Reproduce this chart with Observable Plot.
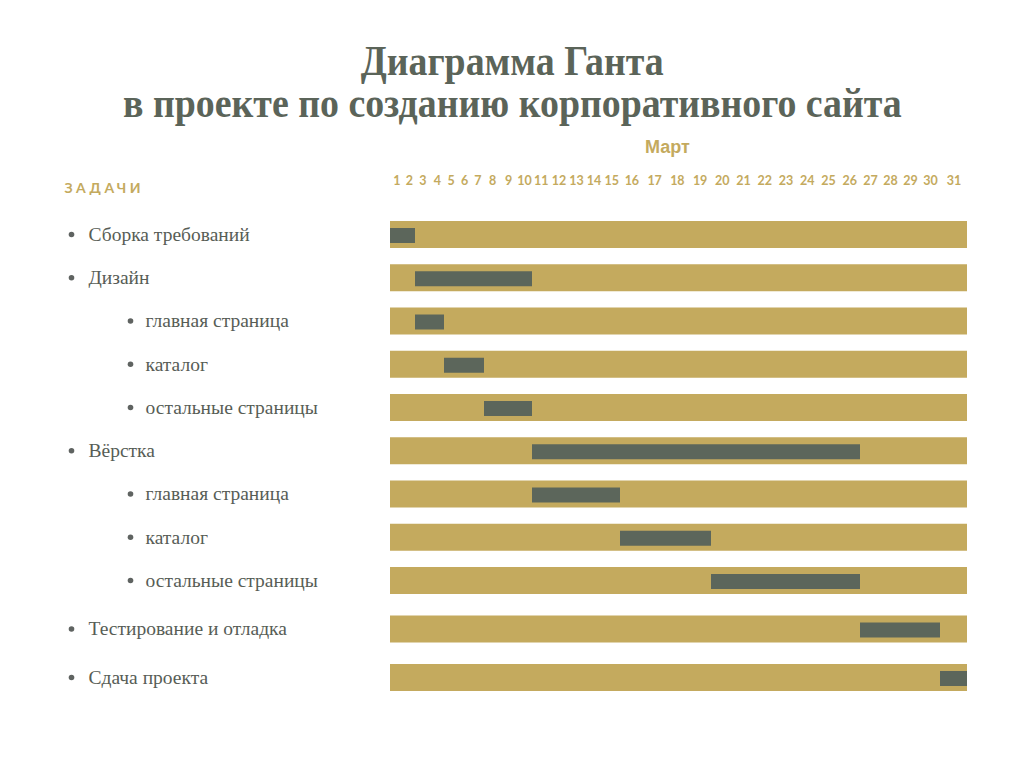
<!DOCTYPE html>
<html>
<head>
<meta charset="utf-8">
<script src="https://cdn.jsdelivr.net/npm/d3@7"></script>
<script src="https://cdn.jsdelivr.net/npm/@observablehq/plot@0.6"></script>
<style>
  html, body { margin: 0; padding: 0; background: #ffffff; }
  #page { width: 1024px; height: 768px; position: relative; overflow: hidden; }
  #title {
    box-sizing: border-box; height: 130px; padding-top: 40px;
    text-align: center; font-family: "Liberation Serif", serif; font-weight: bold;
    font-size: 43px; line-height: 42px; color: #5b6459;
  }
  #title span { display: inline-block; transform: scaleX(0.88); transform-origin: center; white-space: nowrap; }
  #chart svg { display: block; }
</style>
</head>
<body>
<div id="page">
  <div id="title"><span>Диаграмма Ганта</span><br><span>в проекте по созданию корпоративного сайта</span></div>
  <div id="chart"></div>
</div>
<script>
const month = "Март";
const header = "ЗАДАЧИ";
const days = d3.range(1, 32);
const tasks = ["Сборка требований", "Дизайн", "главная страница", "каталог", "остальные страницы",
  "Вёрстка", "главная страница", "каталог", "остальные страницы", "Тестирование и отладка", "Сдача проекта"];
const levels = [1, 1, 2, 2, 2, 1, 2, 2, 2, 1, 1];
const startDays = [1, 3, 3, 5, 8, 11, 11, 16, 20, 27, 31];
const endDays = [2, 10, 4, 7, 10, 26, 15, 19, 26, 30, 31];

const rows = tasks.map((t, i) => ({i, task: t, level: levels[i], start: startDays[i], end: endDays[i] + 1}));

const gold = "#c4aa5e";
const dark = "#5c665b";
const textColor = "#575d56";

// The day axis of the design is not uniform (narrow single-digit days, wider later days):
// a piecewise warp used as the x scale's transform.
const dayWarp = d3.scaleLinear()
  .domain([1, 3, 5, 8, 11, 16, 20, 27, 31, 32])
  .range([390, 415, 444, 484, 532, 620, 711, 860, 940, 967]);
// Row spacing widens slightly for the last rows.
const rowWarp = d3.scaleLinear().domain([0, 8, 10]).range([104, 450, 547]);

const chart = Plot.plot({
  width: 1024,
  height: 638,
  marginLeft: 0, marginRight: 0, marginTop: 0, marginBottom: 0,
  style: {background: "transparent", fontFamily: "Liberation Serif"},
  x: {type: "linear", transform: d => dayWarp(d), domain: [0, 1024], range: [0, 1024], axis: null},
  y: {type: "linear", transform: d => rowWarp(d), domain: [0, 638], range: [0, 638], axis: null},
  marks: [
    // month label
    Plot.text([month], {frameAnchor: "top-left", dx: 667, dy: 17, text: d => d, textAnchor: "middle", lineAnchor: "middle",
      fill: gold, fontSize: 18, fontWeight: "bold", fontFamily: "Liberation Sans"}),
    // day labels
    Plot.text(days, {x: d => d + 0.5, frameAnchor: "top", dy: 50, text: d => String(d), lineAnchor: "middle",
      fill: gold, fontSize: 12.5, fontWeight: "bold", fontFamily: "Lato"}),
    // header
    Plot.text([header], {frameAnchor: "top-left", dx: 64, dy: 58, text: d => d, textAnchor: "start", lineAnchor: "middle",
      fill: gold, fontSize: 14, fontWeight: "bold", fontFamily: "Lato"}),
    // background bars
    Plot.ruleY(rows, {y: "i", x1: () => 1, x2: () => 32, stroke: gold, strokeWidth: 27}),
    // task bars
    Plot.ruleY(rows, {y: "i", x1: "start", x2: "end", stroke: dark, strokeWidth: 15, dy: 1}),
    // bullets
    Plot.dot(rows, {filter: d => d.level === 1, y: "i", frameAnchor: "left", dx: 71, r: 2.8, fill: "#5f6361", stroke: null}),
    Plot.dot(rows, {filter: d => d.level === 2, y: "i", frameAnchor: "left", dx: 130, r: 2.8, fill: "#5f6361", stroke: null}),
    // labels
    Plot.text(rows, {filter: d => d.level === 1, y: "i", frameAnchor: "left", dx: 88, text: "task", textAnchor: "start", lineAnchor: "middle",
      fill: textColor, fontSize: 19.5, fontFamily: "Liberation Serif"}),
    Plot.text(rows, {filter: d => d.level === 2, y: "i", frameAnchor: "left", dx: 145, text: "task", textAnchor: "start", lineAnchor: "middle",
      fill: textColor, fontSize: 19.5, fontFamily: "Liberation Serif"})
  ]
});

d3.select(chart).selectAll("text").filter(function() { return this.textContent === header; })
  .style("letter-spacing", "3.5px");
document.getElementById("chart").appendChild(chart);
</script>
</body>
</html>
